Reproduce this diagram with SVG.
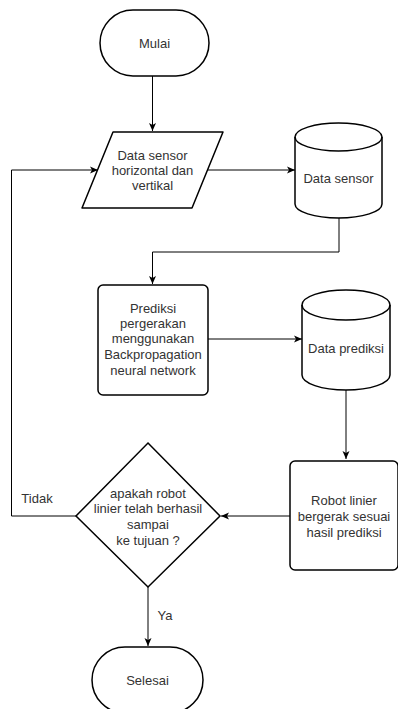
<svg xmlns="http://www.w3.org/2000/svg" width="398" height="709" viewBox="0 0 398 709">
<defs>
<marker id="arr" markerWidth="10" markerHeight="10" refX="9" refY="5" orient="auto" markerUnits="userSpaceOnUse">
<path d="M1,1.5 L9,5 L1,8.5 L3,5 Z" fill="#000"/>
</marker>
<style>
.shape{fill:#fff;stroke:#000;stroke-width:1.5;}
.edge{fill:none;stroke:#000;stroke-width:1;marker-end:url(#arr);}
.line{fill:none;stroke:#000;stroke-width:1;}
text{font-family:"Liberation Sans",Arial,sans-serif;font-size:13px;fill:#333;text-anchor:middle;}
</style>
</defs>
<rect width="398" height="709" fill="#fff"/>
<g id="connectors">
<path class="edge" d="M152.5,76 L152.5,131"/>
<path class="edge" d="M207,170 L295,170"/>
<path class="edge" d="M339,218 L339,252 L152.5,252 L152.5,284"/>
<path class="edge" d="M208,339 L302,339"/>
<path class="edge" d="M346,390 L346,459"/>
<path class="edge" d="M290,516 L221,516"/>
<path class="edge" d="M76,516 L11.5,516 L11.5,170 L98,170"/>
<path class="edge" d="M148,587 L148,646"/>
</g>
<g id="mulai">
<rect class="shape" x="100" y="10" width="109" height="66" rx="33" ry="33"/>
<text x="154.5" y="48">Mulai</text>
</g>
<g id="data-sensor-input">
<path class="shape" d="M113,132 L223,132 L192,208 L82,208 Z" stroke-linejoin="round"/>
<text x="152.5" y="160">Data sensor</text>
<text x="152.5" y="175">horizontal dan</text>
<text x="152.5" y="190">vertikal</text>
</g>
<g id="data-sensor-db">
<path class="shape" d="M295,137 A43.5,14 0 0 1 382,137 L382,204 A43.5,14 0 0 1 295,204 Z"/>
<path class="line" style="stroke-width:1.5" d="M295,137 A43.5,14 0 0 0 382,137"/>
<text x="338.5" y="183">Data sensor</text>
</g>
<g id="prediksi">
<rect class="shape" x="98" y="285" width="110" height="110" rx="5" ry="5"/>
<text x="153" y="313">Prediksi</text>
<text x="153" y="328">pergerakan</text>
<text x="153" y="343">menggunakan</text>
<text x="153" y="359">Backpropagation</text>
<text x="153" y="375">neural network</text>
</g>
<g id="data-prediksi-db">
<path class="shape" d="M302,305 A44,15 0 0 1 390,305 L390,375 A44,15 0 0 1 302,375 Z"/>
<path class="line" style="stroke-width:1.5" d="M302,305 A44,15 0 0 0 390,305"/>
<text x="346" y="353">Data prediksi</text>
</g>
<g id="robot">
<rect class="shape" x="290" y="461" width="108" height="109" rx="5" ry="5"/>
<text x="344" y="505">Robot linier</text>
<text x="344" y="521">bergerak sesuai</text>
<text x="344" y="537">hasil prediksi</text>
</g>
<g id="decision">
<path class="shape" d="M148,443 L220,516 L148,587 L76,516 Z"/>
<text x="148" y="498">apakah robot</text>
<text x="148" y="513">linier telah berhasil</text>
<text x="148" y="529">sampai</text>
<text x="148" y="545">ke tujuan ?</text>
</g>
<g id="labels">
<text x="37" y="503">Tidak</text>
<text x="165" y="620">Ya</text>
</g>
<g id="selesai">
<rect class="shape" x="92" y="647" width="111" height="66" rx="33" ry="33"/>
<text x="147.5" y="685">Selesai</text>
</g>
</svg>
